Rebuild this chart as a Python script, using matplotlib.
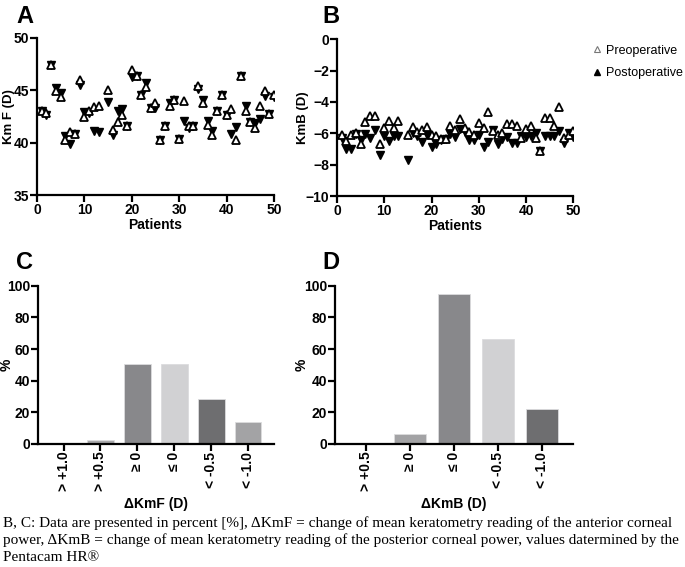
import numpy as np
import matplotlib
matplotlib.use("Agg")
from matplotlib import pyplot as plt
from matplotlib.lines import Line2D

plt.rcParams['font.family'] = ['Liberation Sans', 'DejaVu Sans']
plt.rcParams['font.weight'] = 'bold'

# patient 14 has no reading
patients = [1, 2, 3, 4, 5, 6, 7, 8, 9, 10, 11, 12, 13, 15, 16, 17, 18, 19, 20, 21, 22, 23, 24, 25,
            26, 27, 28, 29, 30, 31, 32, 33, 34, 35, 36, 37, 38, 39, 40, 41, 42, 43, 44, 45, 46, 47, 48, 49, 50]

kmf_pre = [43.0, 42.8, 47.4, 44.9, 44.4, 40.3, 41.0, 40.8, 46.0, 42.5, 43.0, 43.4, 43.5, 45.0, 41.2, 42.0,
           42.6, 41.6, 46.9, 46.4, 44.6, 45.3, 43.3, 43.8, 40.3, 41.6, 43.5, 44.1, 40.4, 44.0, 41.6, 41.6,
           45.4, 43.8, 41.7, 40.7, 43.0, 44.6, 42.6, 43.2, 40.3, 46.4, 43.0, 42.0, 41.4, 43.5, 44.9, 42.7, 44.6]
kmf_post = [43.0, 42.6, 47.4, 45.2, 44.7, 40.6, 39.9, 40.8, 45.5, 42.9, 42.8, 41.1, 41.0, 43.9, 40.7, 43.0,
            43.2, 41.6, 46.3, 46.4, 44.6, 45.7, 43.3, 43.3, 40.3, 41.6, 43.8, 44.1, 40.4, 42.1, 41.4, 41.6,
            45.1, 44.1, 42.1, 41.1, 43.0, 44.6, 42.6, 40.8, 41.5, 46.4, 43.5, 42.0, 41.9, 42.3, 44.5, 42.7, 44.4]

kmb_pre = [-6.1, -6.5, -6.1, -6.0, -6.65, -5.3, -4.9, -4.9, -6.7, -5.65, -5.2, -5.65, -5.2, -6.1, -5.6, -5.9,
           -5.8, -5.6, -6.1, -6.2, -6.35, -6.35, -5.5, -5.8, -5.1, -5.65, -5.9, -6.1, -5.35, -5.65, -4.65, -5.85,
           -6.1, -6.0, -5.4, -5.4, -5.5, -6.3, -5.7, -5.5, -6.3, -7.1, -5.05, -5.05, -5.5, -4.3, -6.3, -6.1, -5.85]
kmb_post = [-6.3, -7.0, -7.0, -6.05, -6.45, -6.05, -6.3, -5.8, -7.35, -6.2, -6.5, -6.2, -6.2, -7.7, -6.0, -6.2,
            -6.55, -6.1, -6.9, -6.65, -6.45, -6.35, -6.05, -6.25, -5.7, -5.9, -6.45, -6.4, -6.1, -6.85, -6.55, -5.8,
            -6.7, -6.35, -6.25, -6.6, -6.6, -6.15, -6.25, -6.15, -5.95, -7.1, -6.15, -6.15, -6.15, -5.85, -6.6, -6.0, -6.25]

cats_c = ['> +1.0', '> +0.5', '≥ 0', '≤ 0', '< -0.5', '< -1.0']
pct_c = [0, 2.3, 50.4, 50.4, 28.3, 14.1]
cols_c = ['#a8a8aa', '#a8a8aa', '#88888b', '#d1d1d3', '#6e6e70', '#a3a3a5']

cats_d = ['> +0.5', '≥ 0', '≤ 0', '< -0.5', '< -1.0']
pct_d = [0, 6.4, 94.6, 66.1, 22.2]
cols_d = ['#a3a3a5', '#a3a3a5', '#88888b', '#d1d1d3', '#6e6e70']

fig = plt.figure(figsize=(6.85, 5.67), dpi=100)
axA = fig.add_axes([0.054, 0.656, 0.346, 0.277])
axB = fig.add_axes([0.492, 0.654, 0.345, 0.277])
axC = fig.add_axes([0.055, 0.217, 0.345, 0.279])
axD = fig.add_axes([0.489, 0.217, 0.347, 0.279])

def style(ax):
    for s in ['top', 'right']:
        ax.spines[s].set_visible(False)
    for s in ['left', 'bottom']:
        ax.spines[s].set_linewidth(1.6)
    ax.tick_params(width=1.6, length=5, labelsize=10, pad=0.5)
    for lab in ax.get_xticklabels() + ax.get_yticklabels():
        lab.set_fontweight('bold')

for ax, pre, post in [(axA, kmf_pre, kmf_post), (axB, kmb_pre, kmb_post)]:
    ax.plot(patients, post, 'v', color='black', ms=5.5, ls='none', zorder=3)
    ax.plot(patients, pre, '^', mfc='white', mec='black', mew=1.3, ms=6, ls='none', zorder=4)
    ax.set_xlim(0, 50)
    ax.set_xticks([0, 10, 20, 30, 40, 50])
    ax.set_xlabel('Patients', fontsize=10, fontweight='bold', labelpad=1)
    ax.spines['bottom'].set_bounds(0, 50)

axA.set_ylim(35, 50)
axA.set_yticks([35, 40, 45, 50])
axA.set_ylabel('Km F (D)', fontsize=9.5, fontweight='bold')
axA.yaxis.set_label_coords(-0.092, 0.5)
axB.set_ylim(-10, 0)
axB.set_yticks([0, -2, -4, -6, -8, -10])
axB.set_ylabel('KmB (D)', fontsize=9.5, fontweight='bold')
axB.yaxis.set_label_coords(-0.12, 0.5)

for ax, cats, pct, cols, xl, lx in [(axC, cats_c, pct_c, cols_c, 'ΔKmF (D)', -0.1),
                                    (axD, cats_d, pct_d, cols_d, 'ΔKmB (D)', -0.11)]:
    x = np.arange(len(cats))
    ax.bar(x, pct, width=0.72, color=cols, edgecolor='#dcdcde', linewidth=0.6)
    ax.set_xticks(x)
    ax.set_xticklabels(cats, rotation=90)
    ax.set_xlim(-0.7, len(cats) - 0.3)
    ax.set_ylim(0, 100)
    ax.set_yticks([0, 20, 40, 60, 80, 100])
    ax.set_ylabel('%', fontsize=10, fontweight='bold')
    ax.yaxis.set_label_coords(lx, 0.5)
    ax.set_xlabel(xl, fontsize=10, fontweight='bold', labelpad=4)

for ax in [axA, axB, axC, axD]:
    style(ax)

fig.text(0.024, 0.992, 'A', fontsize=17, fontweight='bold', va='top')
fig.text(0.471, 0.992, 'B', fontsize=17, fontweight='bold', va='top')
fig.text(0.024, 0.558, 'C', fontsize=17, fontweight='bold', va='top')
fig.text(0.471, 0.558, 'D', fontsize=17, fontweight='bold', va='top')

handles = [Line2D([], [], marker='^', ls='none', mfc='white', mec='#777777', mew=0.8, ms=4.5, label='Preoperative'),
           Line2D([], [], marker='^', ls='none', color='black', ms=4.5, label='Postoperative')]
leg = fig.legend(handles=handles, loc='upper left', bbox_to_anchor=(0.855, 0.93), frameon=False,
                 prop={'size': 9, 'weight': 'normal'}, handletextpad=0.25, labelspacing=0.85,
                 handlelength=1.0, borderaxespad=0)

caption = ['B, C: Data are presented in percent [%], ΔKmF = change of mean keratometry reading of the anterior corneal',
           'power, ΔKmB = change of mean keratometry reading of the posterior corneal power, values datermined by the',
           'Pentacam HR®']
for i, line in enumerate(caption):
    fig.text(0.004, 0.078 - i * 0.031, line, family=['Liberation Serif', 'DejaVu Serif'],
             fontsize=11, fontweight='normal', va='center')

fig.savefig('out.png', dpi=100)
